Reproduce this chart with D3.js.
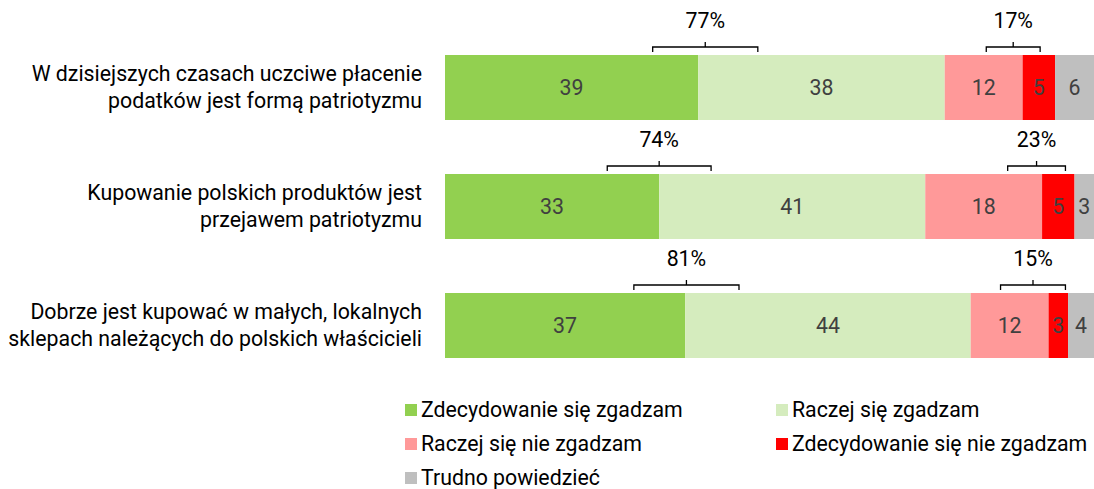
<!DOCTYPE html>
<html>
<head>
<meta charset="utf-8">
<script src="https://cdn.jsdelivr.net/npm/d3@7"></script>
<style>
  body { margin: 0; background: #fff; }
  svg { font-family: Roboto, "Noto Sans", sans-serif; }
</style>
</head>
<body>
<svg id="chart"></svg>
<script>
// statements, two lines each
const categories = [
  ["W dzisiejszych czasach uczciwe płacenie", "podatków jest formą patriotyzmu"],
  ["Kupowanie polskich produktów jest", "przejawem patriotyzmu"],
  ["Dobrze jest kupować w małych, lokalnych", "sklepach należących do polskich właścicieli"]
];
const seriesNames = ["Zdecydowanie się zgadzam", "Raczej się zgadzam", "Raczej się nie zgadzam",
                     "Zdecydowanie się nie zgadzam", "Trudno powiedzieć"];
const colors = ["#92d050", "#d5ecbe", "#ff9999", "#ff0000", "#bfbfbf"];

const strongAgree = [39, 33, 37];
const agree = [38, 41, 44];
const disagree = [12, 18, 12];
const strongDisagree = [5, 5, 3];
const dontKnow = [6, 3, 4];

// sums shown over brackets
const agreeTotals = ["77%", "74%", "81%"];
const disagreeTotals = ["17%", "23%", "15%"];
// bracket extents in value units (placed by hand in the original)
const agreeSpan = [[32.0, 48.2], [25.0, 41.0], [29.1, 45.3]];
const disagreeSpan = [[83.4, 91.7], [86.7, 95.6], [85.6, 95.6]];

const w = 1094, h = 489;
const fs = 21.3;
const svg = d3.select("#chart").attr("width", w).attr("height", h);

const series = [strongAgree, agree, disagree, strongDisagree, dontKnow];
const rows = categories.map((c, i) => {
  const r = { idx: i };
  series.forEach((s, k) => r["s" + k] = s[i]);
  return r;
});
const stack = d3.stack().keys(series.map((s, k) => "s" + k))(rows);

const x = d3.scaleLinear().domain([0, 100]).range([445, 1094]);
const y = d3.scaleBand().domain([0, 1, 2]).range([28, 385]).paddingInner(0.4538).paddingOuter(0.4538 * 0.5);
// bars come out ~65px tall at 55, 174, 293

const g = svg.append("g");
stack.forEach((layer, k) => {
  const lg = g.append("g");
  lg.selectAll("rect").data(layer).enter().append("rect")
    .attr("x", d => x(d[0]))
    .attr("y", (d, i) => y(i))
    .attr("width", d => x(d[1]) - x(d[0]))
    .attr("height", y.bandwidth())
    .attr("fill", colors[k]);
  lg.selectAll("text").data(layer).enter().append("text")
    .attr("x", d => (x(d[0]) + x(d[1])) / 2)
    .attr("y", (d, i) => y(i) + y.bandwidth() / 2)
    .attr("dy", "0.35em")
    .attr("text-anchor", "middle")
    .attr("font-size", fs)
    .attr("fill", "#404040")
    .text(d => d[1] - d[0]);
});

// category labels
categories.forEach((lines, i) => {
  const t = svg.append("text")
    .attr("text-anchor", "end")
    .attr("font-size", fs)
    .attr("fill", "#000");
  lines.forEach((ln, j) => {
    t.append("tspan")
      .attr("x", 422)
      .attr("y", y(i) + y.bandwidth() / 2 + (j - 0.5) * 27)
      .attr("dy", "0.35em")
      .text(ln);
  });
});

// brackets
function bracket(span, label, i) {
  const top = y(i);
  const x0 = x(span[0]), x1 = x(span[1]), xm = (x0 + x1) / 2;
  const ly = top - 8;
  svg.append("path")
    .attr("d", `M${x0},${top - 3}V${ly}H${x1}V${top - 3}M${xm},${ly}V${ly - 5}`)
    .attr("fill", "none")
    .attr("stroke", "#000")
    .attr("stroke-width", 1.3);
  svg.append("text")
    .attr("x", xm)
    .attr("y", top - 34)
    .attr("dy", "0.35em")
    .attr("text-anchor", "middle")
    .attr("font-size", fs)
    .text(label);
}
categories.forEach((c, i) => {
  bracket(agreeSpan[i], agreeTotals[i], i);
  bracket(disagreeSpan[i], disagreeTotals[i], i);
});

// legend
const legX = [405, 776];
const legY = [410, 444, 478];
seriesNames.forEach((name, k) => {
  const lx = legX[k % 2], ly = legY[Math.floor(k / 2)];
  svg.append("rect")
    .attr("x", lx).attr("y", ly - 6)
    .attr("width", 12).attr("height", 12)
    .attr("fill", colors[k]);
  svg.append("text")
    .attr("x", lx + 16).attr("y", ly)
    .attr("dy", "0.35em")
    .attr("font-size", fs)
    .text(name);
});
</script>
</body>
</html>
